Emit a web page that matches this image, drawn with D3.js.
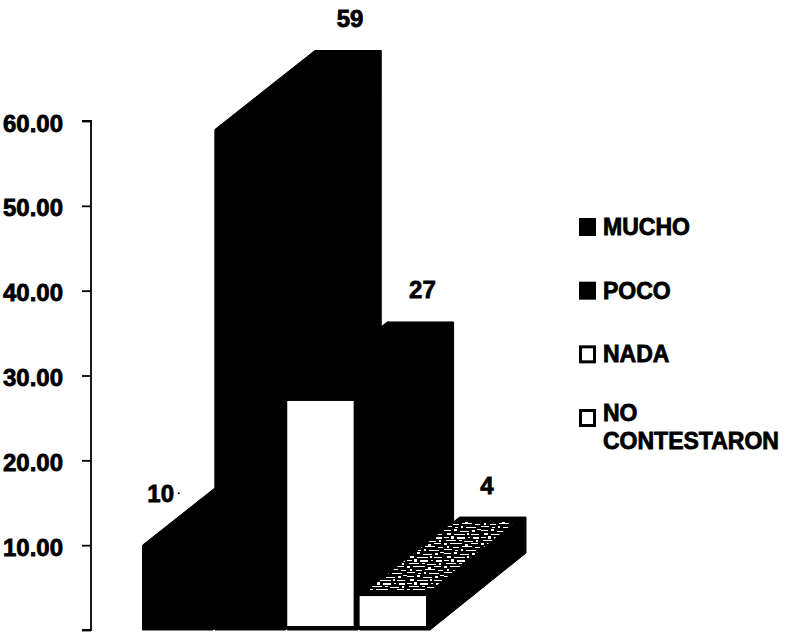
<!DOCTYPE html>
<html><head><meta charset="utf-8">
<script src="https://cdnjs.cloudflare.com/ajax/libs/d3/7.8.5/d3.min.js"></script>
<style>html,body{margin:0;background:#fff;overflow:hidden}svg{display:block}
text{font-family:"Liberation Sans",Arial,sans-serif;font-weight:700;fill:#000;stroke:#000;stroke-width:.8px}</style>
</head><body><svg id="c" width="792" height="632"></svg>
<script>
const categories=["MUCHO","POCO","NADA","NO CONTESTARON"];
const values=[10,59,27,4];
const labels=["10","59","27","4"];
const tickValues=[0,10,20,30,40,50,60];
const frontColors=["#000","#000","#fff","#fff"];
const legendLines=[["MUCHO"],["POCO"],["NADA"],["NO","CONTESTARON"]];

const svg=d3.select("#c");
const y=d3.scaleLinear().domain([0,60]).range([630,121]);
const x=d3.scaleBand().domain(categories).range([142.5,426]).paddingInner(.083).paddingOuter(0);
const dx=100,dy=-79,base=y(0);

// stipple for the top face of the smallest bar
const defs=svg.append("defs");
const pat=defs.append("pattern").attr("id","stip").attr("width",37).attr("height",23)
  .attr("patternUnits","userSpaceOnUse");
pat.append("rect").attr("width",37).attr("height",23).attr("fill","#000");
[[0,1,7,1],[10,0,3,2],[16,2,9,1],[28,1,3,2],[33,0,4,1],
 [3,4,4,2],[10,5,11,1],[23,4,2,2],[27,5,8,1],
 [0,8,5,1],[7,7,3,3],[13,8,8,2],[24,8,2,1],[29,8,6,2],
 [2,11,10,1],[15,11,3,1],[20,12,9,1],[32,11,2,2],
 [0,14,3,2],[6,14,12,1],[21,15,3,2],[27,14,7,1],
 [3,17,2,2],[9,18,6,1],[18,17,10,1],[31,18,5,1],
 [0,20,8,1],[11,21,3,1],[17,20,2,2],[22,21,10,1]].forEach(r=>
  pat.append("rect").attr("x",r[0]).attr("y",r[1]).attr("width",r[2]).attr("height",r[3]).attr("fill","#fff"));

const pts=a=>a.map(p=>p.join(",")).join(" ");
const bars=svg.append("g").selectAll("g").data(categories).join("g");
bars.each(function(c,i){
  const g=d3.select(this),l=x(c),r=l+x.bandwidth(),t=y(values[i]);
  g.append("polygon").attr("fill","#000").attr("stroke","#000").attr("stroke-linejoin","round")
    .attr("points",pts([[l,base],[l,t],[l+dx,t+dy],[r+dx,t+dy],[r+dx,base-77],[r+4,base]]));
  if(frontColors[i]==="#fff"){
    g.append("rect").attr("x",l).attr("y",t).attr("width",x.bandwidth()).attr("height",base-t-4).attr("fill","#fff");
  }
});
{
  const l=x(categories[3]),r=l+x.bandwidth(),t=y(values[3]);
  svg.append("polygon").attr("fill","url(#stip)")
    .attr("points",pts([[l+8,t-6],[r+5,t-6],[r+dx-11,t+dy+5],[l+dx-6,t+dy+5]]));
}

const axis=svg.append("g").attr("transform","translate(91,0)")
  .call(d3.axisLeft(y).tickValues(tickValues).tickSize(9).tickPadding(19)
    .tickFormat(d=>d===0?"0":d3.format(".2f")(d)));
axis.selectAll("path,line").attr("stroke","#000").attr("stroke-width",1.8);
axis.select("path").attr("d",`M-9,${y(60)}H0V${y(0)}H-9`);
axis.selectAll("text").attr("font-size",24).attr("dy",".42em")
  .style("font-family",'"Liberation Sans"');
axis.selectAll(".tick").filter(d=>d===0).select("text").attr("x",-43).attr("dy","1.05em");

const labelDx=[-15,102,102,94], labelDy=[-52,-111,-111,-111];
svg.append("g").selectAll("text").data(labels).join("text")
  .attr("x",(d,i)=>x(categories[i])+x.bandwidth()/2+labelDx[i])
  .attr("y",(d,i)=>y(values[i])+labelDy[i]+8.5)
  .attr("text-anchor","middle").attr("font-size",24).text(d=>d);
svg.append("circle").attr("cx",x(categories[0])+x.bandwidth()/2+3).attr("cy",y(values[0])-52).attr("r",1).attr("fill","#000");

const legY=d3.scalePoint().domain(categories).range([227,418]);
const leg=svg.append("g").selectAll("g").data(categories).join("g")
  .attr("transform",c=>`translate(579,${legY(c)})`);
leg.append("rect").attr("x",1.5).attr("y",-7.5).attr("width",14).attr("height",15)
  .attr("fill",(c,i)=>frontColors[i]).attr("stroke","#000").attr("stroke-width",3);
leg.each(function(c,i){
  const n=legendLines[i].length;
  d3.select(this).selectAll("text").data(legendLines[i]).join("text")
    .attr("x",n>1?[24,25][0]:24).attr("y",(d,j)=>(n>1?3:8)+j*28)
    .attr("font-size",23).text(d=>d);
});
</script></body></html>
